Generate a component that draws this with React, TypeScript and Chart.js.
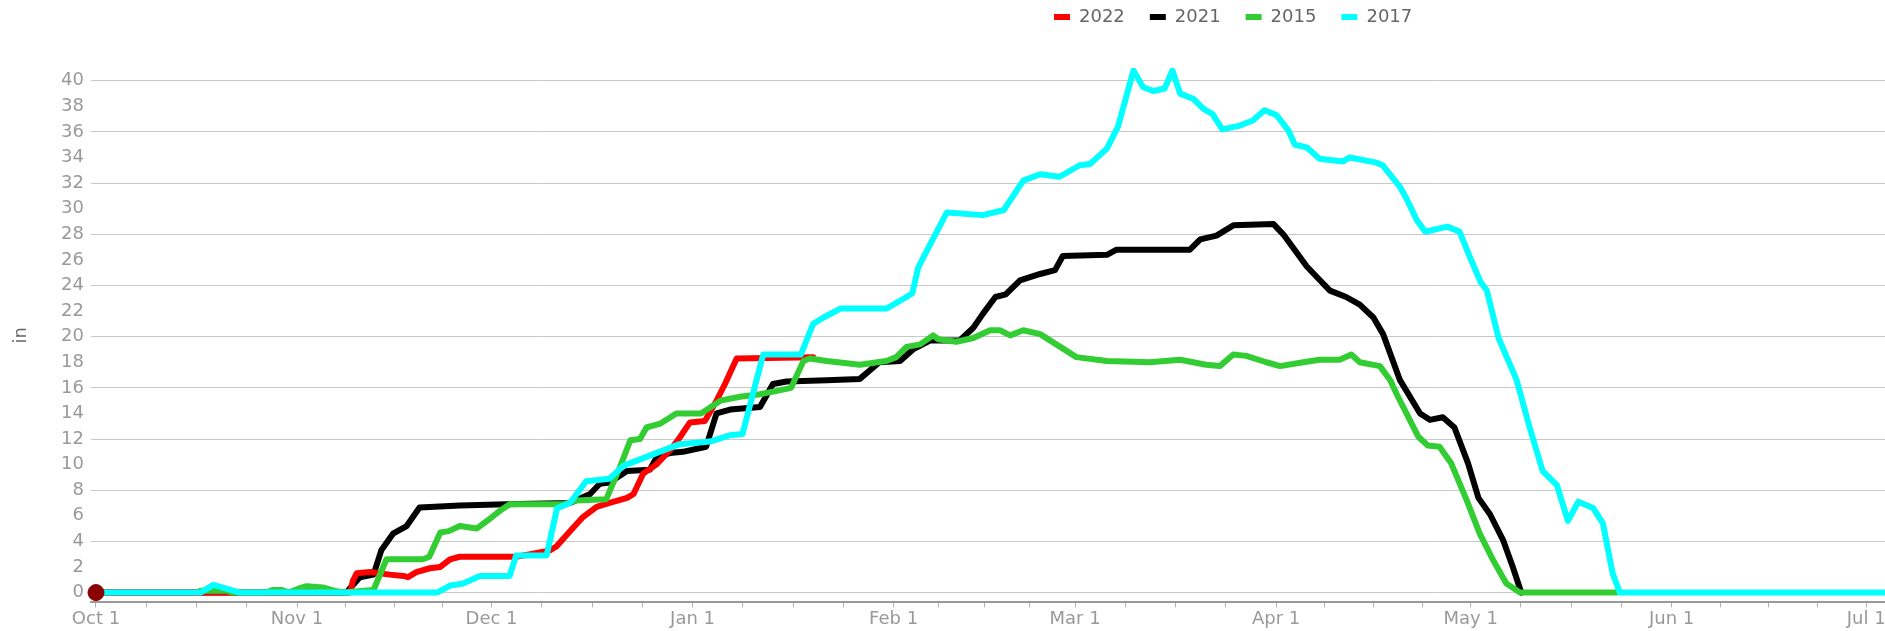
import React, { useEffect, useRef } from 'react';
import { Chart, registerables } from 'chart.js';

Chart.register(...registerables);

// ---- axis labels ----
const monthLabels = ['Oct 1', 'Nov 1', 'Dec 1', 'Jan 1', 'Feb 1', 'Mar 1', 'Apr 1', 'May 1', 'Jun 1', 'Jul 1'];
const monthStartDays = [0, 31, 61, 92, 123, 151, 182, 212, 243, 273];
const yTickValues = [0, 2, 4, 6, 8, 10, 12, 14, 16, 18, 20, 22, 24, 26, 28, 30, 32, 34, 36, 38, 40];

// ---- series (day offset from Oct 1, snow depth in inches) ----
const days2022 = [0, 39.2, 39.6, 40.2, 42.3, 45.3, 47.4, 48.1, 49.4, 51.5, 53.1, 54.6, 56.1, 64.8, 67.0, 70.0, 71.0, 73.1, 75.1, 77.2, 79.2, 81.9, 82.9, 84.4, 86.4, 88.5, 90.0, 91.6, 93.9, 95.7, 97.0, 98.8, 110.6];
const snow2022 = [0, 0, 0.9, 1.5, 1.6, 1.4, 1.3, 1.2, 1.6, 1.9, 2.0, 2.6, 2.8, 2.8, 3.0, 3.3, 3.6, 4.8, 5.9, 6.7, 7.0, 7.4, 7.7, 9.3, 10.0, 11.1, 12.1, 13.3, 13.4, 15.0, 16.3, 18.3, 18.4];

const days2021 = [0, 38.7, 39.1, 40.7, 42.8, 44.0, 45.8, 47.9, 49.9, 56.1, 63.3, 73.1, 76.2, 77.7, 79.2, 81.9, 85.4, 86.5, 88.5, 90.5, 94.1, 95.7, 97.8, 102.4, 104.4, 106.5, 112.7, 117.8, 120.8, 124.0, 126.0, 128.6, 133.2, 135.3, 136.8, 138.7, 140.3, 142.5, 145.6, 147.9, 149.1, 155.9, 157.4, 168.7, 170.3, 172.8, 175.4, 181.6, 183.1, 186.7, 188.2, 190.3, 192.8, 194.9, 197.0, 198.5, 201.1, 204.2, 205.7, 207.7, 209.5, 211.6, 213.2, 215.0, 217.0, 218.5, 219.8];
const snow2021 = [0, 0, 0.3, 1.2, 1.4, 3.3, 4.6, 5.2, 6.65, 6.8, 6.9, 7.0, 7.7, 8.5, 8.6, 9.5, 9.6, 10.6, 10.9, 11.0, 11.4, 14.0, 14.3, 14.5, 16.3, 16.5, 16.6, 16.7, 18.0, 18.1, 19.0, 19.7, 19.7, 20.7, 21.8, 23.1, 23.3, 24.4, 24.9, 25.2, 26.3, 26.4, 26.8, 26.8, 27.6, 27.9, 28.7, 28.8, 28.0, 25.5, 24.7, 23.6, 23.1, 22.5, 21.5, 20.2, 16.6, 14.0, 13.5, 13.7, 12.9, 10.1, 7.4, 6.1, 4.1, 2.0, 0];

const days2015 = [16.1, 20.1, 21.1, 26.2, 27.2, 28.7, 29.7, 31.2, 32.5, 35.0, 37.1, 38.3, 42.8, 44.8, 50.4, 51.4, 53.1, 54.4, 56.1, 58.7, 60.7, 62.3, 63.8, 72.1, 74.1, 78.7, 80.8, 82.4, 83.9, 84.9, 87.0, 89.5, 93.3, 96.3, 99.3, 102.4, 105.4, 107.2, 109.1, 110.1, 112.7, 117.8, 121.9, 123.4, 125.0, 127.1, 129.1, 129.9, 132.7, 135.3, 137.9, 139.4, 141.0, 143.0, 145.6, 148.1, 151.2, 155.9, 162.5, 167.2, 171.2, 173.3, 175.4, 177.4, 180.5, 182.6, 186.2, 188.7, 191.8, 193.6, 194.9, 198.0, 199.6, 200.6, 202.1, 203.9, 205.4, 207.2, 209.0, 211.4, 213.4, 215.5, 217.5, 219.6, 234.5];
const snow2015 = [0.15, 0.15, 0, 0, 0.2, 0.2, 0, 0.3, 0.5, 0.4, 0.1, 0, 0.2, 2.6, 2.6, 2.8, 4.7, 4.8, 5.2, 5.0, 5.75, 6.4, 6.9, 6.9, 7.2, 7.3, 9.8, 11.9, 12.0, 12.9, 13.2, 14.0, 14.0, 15.0, 15.3, 15.5, 15.8, 16.0, 18.1, 18.3, 18.1, 17.8, 18.1, 18.4, 19.2, 19.4, 20.1, 19.8, 19.6, 19.9, 20.5, 20.5, 20.1, 20.5, 20.2, 19.4, 18.4, 18.1, 18.0, 18.2, 17.8, 17.7, 18.6, 18.5, 18.0, 17.7, 18.0, 18.2, 18.2, 18.6, 18.0, 17.7, 16.6, 15.5, 14.0, 12.2, 11.5, 11.4, 10.1, 7.2, 4.6, 2.5, 0.7, 0, 0];

const days2017 = [0, 16.1, 18.1, 20.1, 22.2, 52.6, 54.6, 56.6, 59.2, 63.8, 64.8, 69.5, 71.1, 73.1, 75.6, 79.2, 81.3, 85.9, 90.0, 94.7, 97.8, 99.7, 102.9, 108.7, 110.6, 112.2, 114.8, 121.9, 125.0, 125.9, 126.8, 127.6, 131.2, 136.8, 140.0, 143.0, 145.6, 148.6, 151.7, 153.3, 155.9, 157.6, 160.0, 161.5, 163.1, 164.8, 166.0, 167.2, 169.2, 170.8, 172.2, 173.7, 176.4, 178.4, 180.2, 182.1, 183.9, 184.9, 186.7, 188.7, 192.3, 193.3, 197.5, 198.4, 201.1, 202.1, 203.7, 205.0, 208.4, 210.3, 211.9, 213.5, 214.5, 216.3, 219.1, 221.1, 223.1, 225.3, 227.0, 228.6, 230.9, 232.4, 233.9, 235.0, 276];
const snow2017 = [0, 0, 0.6, 0.3, 0, 0, 0.55, 0.7, 1.3, 1.3, 2.9, 2.9, 6.6, 7.0, 8.7, 8.9, 9.9, 10.8, 11.6, 11.8, 12.3, 12.4, 18.6, 18.6, 21.0, 21.5, 22.2, 22.2, 23.1, 23.4, 25.4, 26.2, 29.7, 29.5, 29.9, 32.2, 32.7, 32.5, 33.4, 33.5, 34.7, 36.4, 40.8, 39.5, 39.2, 39.4, 40.8, 39.0, 38.6, 37.8, 37.4, 36.2, 36.5, 36.9, 37.7, 37.3, 36.1, 35.0, 34.8, 33.9, 33.7, 34.0, 33.6, 33.4, 31.7, 30.8, 29.1, 28.2, 28.6, 28.2, 26.2, 24.3, 23.6, 19.9, 16.6, 12.9, 9.5, 8.4, 5.6, 7.1, 6.6, 5.4, 1.5, 0, 0];

const markerDays = [0];
const markerValues = [0];

const toPoints = (days: number[], vals: number[]) => days.map((d, i) => ({ x: d, y: vals[i] }));

const FONT = "'DejaVu Sans', Verdana, sans-serif";

export default function App() {
  const ref = useRef<HTMLCanvasElement>(null);

  useEffect(() => {
    const canvas = ref.current;
    if (!canvas) return;

    const legendPlacement = {
      id: 'legendPlacement',
      beforeInit(chart: any) {
        const lg = chart.legend;
        if (lg) {
          const fit = lg.fit;
          lg.fit = function () {
            fit.call(this);
            this.height = 68;
          };
        }
      },
      afterLayout(chart: any) {
        const lg = chart.legend;
        if (!lg) return;
        lg.left += 1029;
        lg.right += 1029;
        lg.top -= 17;
        lg.bottom -= 17;
      },
    };

    const line = (label: string, data: any[], color: string, order: number) => ({
      label,
      data,
      borderColor: color,
      backgroundColor: color,
      borderWidth: 6,
      pointRadius: 0,
      pointHoverRadius: 0,
      tension: 0,
      borderJoinStyle: 'round' as const,
      borderCapStyle: 'round' as const,
      order,
    });

    const chart = new Chart(canvas, {
      type: 'line',
      data: {
        datasets: [
          line('2022', toPoints(days2022, snow2022), '#ff0000', 3),
          line('2021', toPoints(days2021, snow2021), '#000000', 4),
          line('2015', toPoints(days2015, snow2015), '#32cd32', 2),
          line('2017', toPoints(days2017, snow2017), '#00ffff', 1),
          {
            label: 'today',
            data: toPoints(markerDays, markerValues),
            showLine: false,
            pointRadius: 8,
            pointBackgroundColor: '#8b0000',
            pointBorderColor: '#8b0000',
            borderColor: '#8b0000',
            backgroundColor: '#8b0000',
            clip: false,
            order: 0,
          } as any,
        ],
      },
      options: {
        animation: false,
        responsive: false,
        maintainAspectRatio: false,
        layout: { padding: 0, autoPadding: false },
        plugins: {
          tooltip: { enabled: false },
          legend: {
            position: 'top',
            align: 'start',
            labels: {
              boxWidth: 16,
              boxHeight: 6,
              padding: 25,
              color: '#666666',
              font: { family: FONT, size: 18 },
              filter: (item: any) => item.datasetIndex < 4,
              sort: (a: any, b: any) => a.datasetIndex - b.datasetIndex,
              generateLabels: (ch: any) =>
                (Chart.defaults.plugins.legend.labels as any)
                  .generateLabels(ch)
                  .map((it: any) => ({ ...it, lineWidth: 0 })),
            },
          },
        },
        scales: {
          x: {
            type: 'linear',
            min: -0.77,
            max: 275.9,
            afterBuildTicks: (scale: any) => {
              const t: { value: number }[] = [];
              for (let i = 0; i < monthStartDays.length - 1; i++) {
                const s = monthStartDays[i];
                const len = monthStartDays[i + 1] - s;
                for (let q = 0; q < 4; q++) t.push({ value: s + (len * q) / 4 });
              }
              t.push({ value: monthStartDays[monthStartDays.length - 1] });
              scale.ticks = t;
            },
            afterFit: (scale: any) => {
              scale.paddingLeft = 0;
              scale.paddingRight = 0;
            },
            ticks: {
              autoSkip: false,
              maxRotation: 0,
              minRotation: 0,
              padding: 1,
              color: '#999999',
              font: { family: FONT, size: 18 },
              callback: (v: any) => {
                const i = monthStartDays.indexOf(Number(v));
                return i >= 0 ? monthLabels[i] : '';
              },
            },
            grid: {
              drawOnChartArea: false,
              drawTicks: true,
              tickLength: 5,
              color: '#b0b0b0',
            },
            border: { display: true, color: '#999999', width: 2 },
          },
          y: {
            type: 'linear',
            min: -0.77,
            max: 41,
            afterBuildTicks: (scale: any) => {
              scale.ticks = yTickValues.map((v) => ({ value: v }));
            },
            afterFit: (scale: any) => {
              scale.width = 91;
            },
            ticks: {
              padding: 7,
              color: '#999999',
              font: { family: FONT, size: 18 },
            },
            grid: {
              drawTicks: false,
              color: (ctx: any) =>
                ctx.tick && ctx.tick.value % 4 === 0 ? '#c8c8c8' : 'rgba(0,0,0,0)',
              lineWidth: 1,
            },
            border: { display: false },
            title: {
              display: true,
              text: 'in',
              color: '#666666',
              font: { family: FONT, size: 18 },
              padding: { top: 11, bottom: 0 },
            },
          },
        },
      },
      plugins: [legendPlacement],
    });

    return () => chart.destroy();
  }, []);

  return (
    <div
      style={{
        position: 'fixed',
        left: 0,
        top: 0,
        width: 1885,
        height: 631,
        overflow: 'hidden',
        background: '#ffffff',
      }}
    >
      <canvas ref={ref} width={1885} height={631} style={{ display: 'block' }} />
    </div>
  );
}
